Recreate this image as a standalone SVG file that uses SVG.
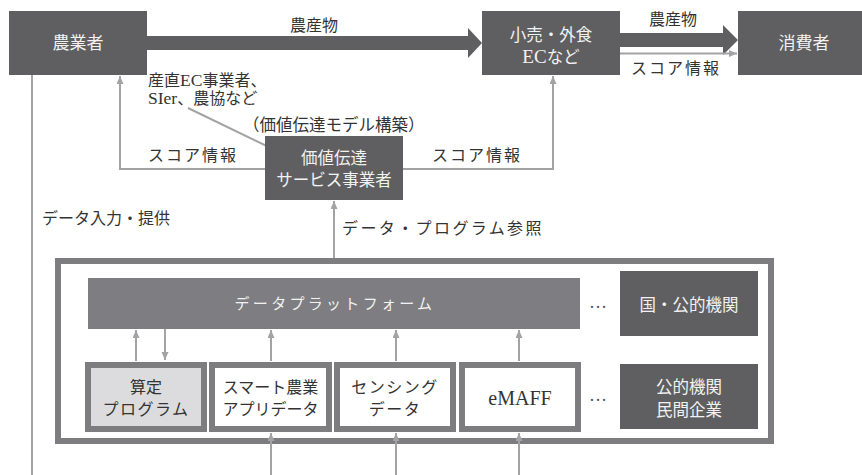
<svg xmlns="http://www.w3.org/2000/svg" width="862" height="475" viewBox="0 0 862 475">
<style>
text{font-family:"Liberation Serif","Noto Sans CJK JP",serif;font-size:16px;fill:#333}
.w{fill:#f2f2f2;text-anchor:middle;font-size:16.5px}
.c{text-anchor:middle}
.lat{font-size:19px}
.dark{fill:#5f5f61}
.ln{fill:none;stroke:#a3a3a6;stroke-width:2}
.bx{stroke:#7d7d80;stroke-width:6}
.dots{font-size:18px;fill:#555;text-anchor:middle}
</style>
<defs>
<marker id="ah" markerUnits="userSpaceOnUse" markerWidth="9" markerHeight="8" refX="8" refY="3.5" orient="auto-start-reverse">
<path d="M0,0 L8,3.5 L0,7 z" fill="#a3a3a6"/>
</marker>
</defs>
<rect width="862" height="475" fill="#fff"/>

<g id="connectors">
<polygon class="dark" points="147,36 468,36 468,28 482,43 468,58 468,50 147,50"/>
<polygon class="dark" points="620,33 723,33 723,25 738,40 723,55 723,47 620,47"/>
<line class="ln" x1="620" y1="53.5" x2="737" y2="53.5" marker-end="url(#ah)"/>
<line class="ln" x1="32" y1="75" x2="32" y2="475"/>
<polyline class="ln" points="265,169 120,169 120,76" marker-end="url(#ah)"/>
<polyline class="ln" points="403,169 553,169 553,76" marker-end="url(#ah)"/>
<line class="ln" x1="188" y1="108" x2="275" y2="150"/>
<circle cx="275" cy="150" r="3.5" fill="#a3a3a6"/>
<line class="ln" x1="334" y1="201" x2="334" y2="277" marker-start="url(#ah)" marker-end="url(#ah)"/>
</g>

<g id="labels">
<text x="314" y="31" class="c">農産物</text>
<text x="673" y="25" class="c">農産物</text>
<text x="676" y="74" class="c" letter-spacing="2">スコア情報</text>
<text x="148" y="86">産直<tspan style="font-size:17.5px">EC</tspan>事業者、</text>
<text x="148" y="104"><tspan style="font-size:17.5px">SIer</tspan>、農協など</text>
<text x="243" y="131" style="font-size:16.5px">（価値伝達モデル構築）</text>
<text x="148" y="161" letter-spacing="2">スコア情報</text>
<text x="432" y="161" letter-spacing="2">スコア情報</text>
<text x="42" y="224">データ入力・提供</text>
<text x="342" y="234" letter-spacing="2.4">データ・プログラム参照</text>
</g>

<g id="farmer"><rect class="dark" x="9" y="11" width="138" height="64"/><text class="w" x="78" y="49" style="font-size:17px">農業者</text></g>
<g id="retail"><rect class="dark" x="482" y="11" width="138" height="64"/><text class="w" x="551" y="41">小売・外食</text><text class="w" x="551" y="63"><tspan class="lat">EC</tspan>など</text></g>
<g id="consumer"><rect class="dark" x="738" y="11" width="124" height="64"/><text class="w" x="804" y="49" style="font-size:17px">消費者</text></g>
<g id="service"><rect class="dark" x="265" y="136" width="138" height="64"/><text class="w" x="334" y="164">価値伝達</text><text class="w" x="334" y="186">サービス事業者</text></g>

<g id="container"><rect x="58" y="261" width="713" height="180" fill="#fff" stroke="#7d7d80" stroke-width="6"/></g>

<g id="platform"><rect x="88" y="278" width="492" height="51" fill="#7e7e82"/><text class="w" x="335" y="309" style="font-size:15px" letter-spacing="3.3">データプラットフォーム</text></g>
<g id="dots1"><text x="598" y="308" class="dots">…</text></g>
<g id="gov"><rect class="dark" x="620" y="271" width="138" height="65"/><text class="w" x="689" y="311">国・公的機関</text></g>
<g id="dots2"><text x="598" y="401" class="dots">…</text></g>
<g id="private"><rect class="dark" x="620" y="364" width="138" height="65"/><text class="w" x="689" y="393">公的機関</text><text class="w" x="689" y="416">民間企業</text></g>

<g id="calc"><rect class="bx" x="88" y="365" width="116" height="64" fill="#dcdcde"/><text class="c" x="146" y="393">算定</text><text class="c" x="146" y="415" letter-spacing="1.5">プログラム</text></g>
<g id="smart"><rect class="bx" x="212" y="365" width="117" height="64" fill="#fff"/><text class="c" x="270.5" y="393">スマート農業</text><text class="c" x="270.5" y="415">アプリデータ</text></g>
<g id="sensing"><rect class="bx" x="337" y="365" width="116" height="64" fill="#fff"/><text class="c" x="395" y="393" letter-spacing="1.5">センシング</text><text class="c" x="395" y="415" letter-spacing="1.5">データ</text></g>
<g id="emaff"><rect class="bx" x="462" y="365" width="116" height="64" fill="#fff"/><text class="c" x="520" y="405" style="font-size:20px">eMAFF</text></g>

<g id="connectors2">
<line class="ln" x1="136" y1="361" x2="136" y2="330" marker-end="url(#ah)"/>
<line class="ln" x1="165" y1="329" x2="165" y2="360" marker-end="url(#ah)"/>
<line class="ln" x1="271" y1="361" x2="271" y2="330" marker-end="url(#ah)"/>
<line class="ln" x1="396" y1="361" x2="396" y2="330" marker-end="url(#ah)"/>
<line class="ln" x1="519" y1="361" x2="519" y2="330" marker-end="url(#ah)"/>
<line class="ln" x1="271" y1="475" x2="271" y2="433" marker-end="url(#ah)"/>
<line class="ln" x1="396" y1="475" x2="396" y2="433" marker-end="url(#ah)"/>
<line class="ln" x1="519" y1="475" x2="519" y2="433" marker-end="url(#ah)"/>
</g>
</svg>
